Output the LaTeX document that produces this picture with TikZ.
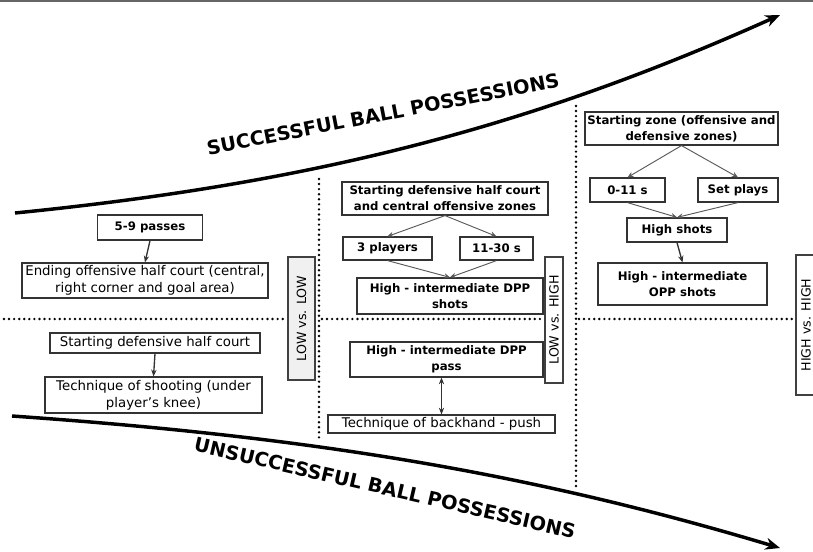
\documentclass[tikz,border=0pt]{standalone}
\usepackage{fontspec}
\setmainfont{DejaVu Sans}
\usetikzlibrary{arrows.meta}
\begin{document}
\begin{tikzpicture}[x=0.75pt,y=-0.75pt,
  box/.style={draw=black!80,line width=0.9pt,fill=white,align=center,inner sep=1pt,font=\fontsize{10}{12.5}\selectfont},
  boxB/.style={box,font=\fontsize{8.8}{12}\selectfont\bfseries},
  tag/.style={draw=black!75,line width=0.8pt,fill=white,rotate=90,inner sep=1pt,font=\fontsize{9.5}{10}\selectfont},
  link/.style={-{Stealth[length=5pt,width=4pt]},line width=1pt,black!80},
  linkG/.style={-{Stealth[length=4.5pt,width=4pt]},line width=0.7pt,black!65},
  trend/.style={line width=2.6pt,-{Stealth[length=11pt,width=9pt]}},
  zone/.style={line width=2pt,dash pattern=on 0pt off 3.8pt,line cap=round},
  title/.style={font=\fontsize{14.5}{16}\selectfont\bfseries}]
\def\px{0.75pt}
\useasboundingbox (0,0) rectangle (813,552);

\draw[black!60,line width=1.5pt] (0,1) -- (813,1);

% trends
\coordinate (U0) at (15,213);
\coordinate (U1) at (780,15);
\draw[trend] (U0) .. controls (315,183) and (530,127) .. (U1);
\coordinate (L0) at (12,416);
\coordinate (L1) at (780,548);
\draw[trend] (L0) .. controls (312,437) and (530,473) .. (L1);

\node[title,rotate=11] (SUC) at (383,114) {SUCCESSFUL BALL POSSESSIONS};
\node[title,rotate=-13] (UNS) at (385,488) {UNSUCCESSFUL BALL POSSESSIONS};

% zones
\draw[zone] (319,179) -- (319,438);
\draw[zone] (576,106) -- (576,490);
\draw[zone] (4,319) -- (286,319);
\draw[zone] (322,319) -- (544,319);
\draw[zone] (579,319) -- (795,319);

\node[tag,fill=black!6,minimum width=123*\px,minimum height=27*\px] (LL) at (301.5,318.5) {LOW vs. LOW};
\node[tag,minimum width=126*\px,minimum height=18*\px] (LH) at (554,320) {LOW vs. HIGH};
\node[tag,minimum width=140*\px,minimum height=20*\px] (HH) at (806,325) {HIGH vs. HIGH};

% LOW vs. LOW
\node[boxB,minimum width=105*\px,minimum height=25*\px] (P59) at (150,227.5) {5-9 passes};
\node[box,minimum width=246*\px,minimum height=35*\px] (EO) at (145,280.5) {Ending offensive half court (central,\\right corner and goal area)};
\draw[link] (P59.south) -- (EO.north);
\node[box,minimum width=210*\px,minimum height=20*\px] (SD) at (155,343) {Starting defensive half court};
\node[box,minimum width=217*\px,minimum height=36*\px] (TS) at (153.5,395) {Technique of shooting (under\\player's knee)};
\draw[link] (SD.south) -- (TS.north);

% LOW vs. HIGH
\node[boxB,minimum width=206*\px,minimum height=33*\px] (SC) at (445,198.5) {Starting defensive half court\\and central offensive zones};
\node[boxB,minimum width=89*\px,minimum height=23*\px] (P3) at (387.5,248.5) {3 players};
\node[boxB,minimum width=73*\px,minimum height=23*\px] (S1130) at (496.5,248.5) {11-30 s};
\node[boxB,minimum width=186*\px,minimum height=36*\px] (HS) at (450,296) {High - intermediate DPP\\shots};
\draw[linkG] (SC.south) -- (P3.north);
\draw[linkG] (SC.south) -- (S1130.north);
\draw[linkG] (P3.south) -- (HS.north);
\draw[linkG] (S1130.south) -- (HS.north);
\node[boxB,minimum width=193*\px,minimum height=35*\px] (HP) at (446.5,359.5) {High - intermediate DPP\\pass};
\node[box,minimum width=227*\px,minimum height=18*\px] (TB) at (441.5,424) {Technique of backhand - push};
\draw[link,{Stealth[length=5pt,width=4pt]}-{Stealth[length=5pt,width=4pt]}] (TB.north |- HP.south) -- (TB.north);

% HIGH vs. HIGH
\node[boxB,minimum width=193*\px,minimum height=33*\px] (SZ) at (681.5,128.5) {Starting zone (offensive and\\defensive zones)};
\node[boxB,minimum width=75*\px,minimum height=24*\px] (S011) at (627.5,190) {0-11 s};
\node[boxB,minimum width=80*\px,minimum height=24*\px] (SP) at (738,190) {Set plays};
\node[boxB,minimum width=100*\px,minimum height=24*\px] (HSH) at (677,230) {High shots};
\node[boxB,minimum width=169*\px,minimum height=42*\px] (HO) at (682.5,284) {High - intermediate\\OPP shots};
\draw[linkG] (SZ.south) -- (S011.north);
\draw[linkG] (SZ.south) -- (SP.north);
\draw[linkG] (S011.south) -- (HSH.north);
\draw[linkG] (SP.south) -- (HSH.north);
\draw[link] (HSH.south) -- (HO.north);
\end{tikzpicture}
\end{document}
